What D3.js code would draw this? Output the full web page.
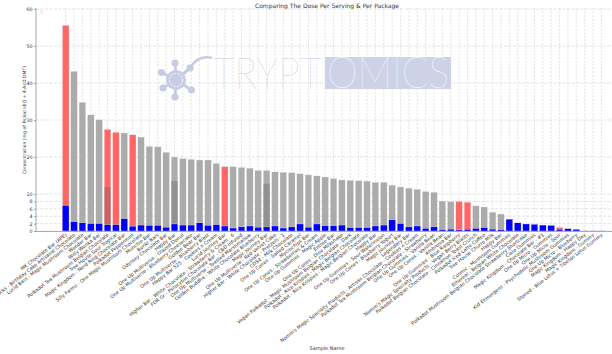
<!DOCTYPE html>
<html><head><meta charset="utf-8">
<script src="https://cdn.jsdelivr.net/npm/d3@7"></script>
<style>body{margin:0;background:#fff}svg{display:block;font-family:"DejaVu Sans",sans-serif}</style>
</head><body><svg id="c" width="612" height="354"></svg>
<script>
const labels = [
"MK Chocolate Bar (APE)",
"Magic Munchie Snacks - Birthday Cake Artisanal Chocolate",
"Lucid Bars - Magic Mushroom Chocolate",
"Wonder Bar",
"Willy Wonka Bar",
"Polkadot Tea Mushroom Belgian Chocolate",
"Tree House Sour Tropical",
"Magic Kingdom - Nerd Ring Chocolate Bar",
"Polkadot Peppermint",
"Silly Farms - One Magic Mushroom Chocolate",
"Munchie Bar",
"Bonkr Bars",
"Odyssey Chocolate Bar",
"Happy Bar",
"One Up Multiverse - Glazed Donut",
"One Up Multiverse - Blueberry Cheesecake",
"Golden Bear Bar",
"One Up Multiverse - Blueberry Blast",
"Happy Bar 525 - Cookies n Cream",
"Lucid Journey Bar",
"Higher Bar - White Chocolate - Strawberry & Cream - 6",
"FDR Gr - Psilocybin Chocolate Bar - CBD Infused",
"One Up Multiverse - Toasted Marshmallow",
"Golden Buddha - White Chocolate Blueberry",
"Magic Journey Bar",
"One Up Multiverse - Red Velvet Cake",
"Higher Bar - White Chocolate - Pretzels - 1",
"CDS4 - Milk Chocolate",
"One Up Cones - Salted Caramel",
"Mycrochips Bar",
"One Up Cones - Strawberries & Cream",
"One Up Gummies - Magic Apple",
"Entree Bar",
"One Up Cones - Dino Milkshake",
"Vegan Polkadot - Magic Mushroom Belgian Chocolate - Dark",
"Polkadot - Rice Krispies - Magic Belgian Chocolate",
"Polkadot - Rice Krispies - Magic Belgian Chocolate ",
"Happy Bar ",
"One Up Gummies - Sour Watermelon",
"One Up Cones - Blueberry Yogurt",
"Magic Journey Bar ",
"Legendary Bar",
"Nomm's Magic Specialty Products - Artisan Chocolate - Cookies n Cream",
"Polkadot Tea Mushroom Belgian Chocolate - Strawberry",
"One Up Gummies - Vanilla Bean",
"One Up Cones - Vanilla Bean",
"Ambrosia Bar",
"One Up Gummies - Blue Raspberry",
"Nomm's Magic Specialty Products - Vegan Berry Blasts",
"Polkadot Belgian Chocolate - Cinnamon Toast Crunch",
"Polkadot Iced Latte Coffee",
"Tree House Churro Milk",
"Happy Bar  ",
"Cosmic - Mushroom Gummies",
"Ethereal - Belgian White Chocolate",
"Polkadot Mushroom Belgian Chocolate Strawberry Shortcake",
"Cielo Gummies",
"Magic Kingdom - Chocolate Bar - #1",
"One Up Micro - Gummies",
"One Up Micro - Sour",
"Kid Enmergens - Psychedelic Mushroom Gummies",
"One Up Micro - Blueberry",
"Magic Kingdom - Happy Day",
"Magic Kingdom - Gummy",
"Stoned - Blue Lotus + Tibetan Lotus Gummy"
];
const perPackage = [55.6,43.2,34.8,31.4,30.1,27.5,26.7,26.5,26.0,25.4,22.9,22.8,21.3,20.0,19.6,19.4,19.2,19.2,18.3,17.4,17.4,17.2,17.0,16.4,16.4,16.0,15.9,15.8,15.5,15.2,14.9,14.6,14.2,13.8,13.7,13.6,13.5,13.2,13.2,12.4,11.9,11.6,11.3,10.7,10.5,8.1,8.0,8.0,7.8,6.8,6.5,5.1,4.6,3.2,2.2,1.9,1.8,1.6,1.5,1.0,0.7,0.45,0.15,0.15,0.15];
const perServing = [6.9,2.5,2.2,2.0,2.0,1.7,1.7,3.3,1.3,1.6,1.5,1.5,1.0,1.9,1.6,1.6,2.2,1.5,1.7,1.35,0.8,1.1,1.35,1.0,1.1,1.35,0.8,1.1,1.9,1.0,1.9,1.4,1.4,1.6,0.9,0.9,0.9,1.35,1.6,3.0,2.0,1.1,1.35,0.7,1.1,0.35,0.5,0.3,0.45,0.7,0.9,0.5,0.35,3.2,2.2,1.9,1.8,1.6,1.5,0.45,0.6,0.45,0.05,0.05,0.05];
const claimedSample = [6, 14, 25];          // 1-based sample numbers with a darker overlay
const claimedValue  = [11.8, 13.5, 12.8];
const flaggedSample = [1, 6, 7, 9, 20, 48, 49, 60]; // 1-based samples drawn in red
const yTicks = [0,2,4,6,8,10,20,30,40,50,60];

const svg = d3.select('#c');
const n = labels.length;
const x = d3.scaleBand().domain(d3.range(n)).range([61.5, 605.6]).paddingInner(0.2).paddingOuter(0.1);
const y = d3.scaleLinear().domain([0, 60]).range([231, 9]);
const left = 36, right = 612;

// grid
svg.append('g').selectAll('line').data(yTicks).join('line')
  .attr('x1', left).attr('x2', right).attr('y1', d => y(d)).attr('y2', d => y(d))
  .attr('stroke', '#dcdcdc').attr('stroke-width', 0.8).attr('stroke-dasharray', '3,1.5');
svg.append('g').selectAll('line').data(d3.range(n)).join('line')
  .attr('x1', d => x(d) + x.bandwidth()/2).attr('x2', d => x(d) + x.bandwidth()/2)
  .attr('y1', 8).attr('y2', 231)
  .attr('stroke', '#dcdcdc').attr('stroke-width', 0.8).attr('stroke-dasharray', '2,1.5');

// watermark
const wm = svg.append('g').attr('opacity', 1);
const wmc = '#c6cce3';
const cx = 176, cy = 80;
const nodes = [[175,63],[161.5,72.5],[163,88],[175,97],[191.5,90],[190,68]];
nodes.forEach(p => {
  wm.append('line').attr('x1', cx).attr('y1', cy).attr('x2', p[0]).attr('y2', p[1]).attr('stroke', wmc).attr('stroke-width', 3);
  wm.append('circle').attr('cx', p[0]).attr('cy', p[1]).attr('r', 3.6).attr('fill', wmc);
});
wm.append('circle').attr('cx', cx).attr('cy', cy).attr('r', 10).attr('fill', wmc);
wm.append('circle').attr('cx', cx).attr('cy', cy).attr('r', 6.5).attr('fill', 'none').attr('stroke', '#fff').attr('stroke-width', 1).attr('stroke-dasharray', '2,1.5');
wm.append('path').attr('d', 'M190,68 C196,58 204,56 212,58').attr('fill', 'none').attr('stroke', wmc).attr('stroke-width', 2.5);
wm.append('text').attr('x', 213).attr('y', 89).attr('font-family', 'Lato, "Open Sans", sans-serif').attr('font-weight', 200)
  .attr('font-size', 44).attr('fill', wmc).attr('textLength', 108).attr('lengthAdjust', 'spacingAndGlyphs').text('TRYPT');
wm.append('rect').attr('x', 325).attr('y', 57).attr('width', 126).attr('height', 32).attr('fill', '#cdd2e7');
wm.append('text').attr('x', 327).attr('y', 88).attr('font-family', 'Lato, "Open Sans", sans-serif').attr('font-weight', 200)
  .attr('font-size', 44).attr('fill', '#fff').attr('textLength', 122).attr('lengthAdjust', 'spacingAndGlyphs').text('OMICS');

// bars
const g = svg.append('g');
g.selectAll('rect.pkg').data(perPackage).join('rect').attr('class', 'pkg')
  .attr('x', (d, i) => x(i)).attr('width', x.bandwidth())
  .attr('y', d => y(d)).attr('height', d => y(0) - y(d))
  .attr('fill', (d, i) => flaggedSample.includes(i + 1) ? '#ff6666' : '#ababab')
  .attr('stroke', '#fff').attr('stroke-width', 0.3);
g.selectAll('rect.claim').data(claimedSample).join('rect').attr('class', 'claim')
  .attr('x', d => x(d - 1)).attr('width', x.bandwidth())
  .attr('y', (d, i) => y(claimedValue[i])).attr('height', (d, i) => y(0) - y(claimedValue[i]))
  .attr('fill', '#555').attr('fill-opacity', 0.3);
g.selectAll('rect.srv').data(perServing).join('rect').attr('class', 'srv')
  .attr('x', (d, i) => x(i)).attr('width', x.bandwidth())
  .attr('y', d => y(d)).attr('height', d => y(0) - y(d))
  .attr('fill', '#0000ff').attr('stroke', '#fff').attr('stroke-width', 0.3);

// axes
svg.append('line').attr('x1', left).attr('x2', left).attr('y1', 8).attr('y2', 231.5).attr('stroke', '#c8c8c8').attr('stroke-width', 1.6);
svg.append('line').attr('x1', left).attr('x2', right).attr('y1', 231.5).attr('y2', 231.5).attr('stroke', '#999').attr('stroke-width', 0.8);
const ya = svg.append('g').attr('transform', `translate(${left},0)`)
  .call(d3.axisLeft(y).tickValues(yTicks).tickSize(2).tickPadding(1.5));
ya.select('.domain').remove();
ya.selectAll('text').attr('font-size', 4.8).attr('fill', '#333').attr('font-family', '"DejaVu Sans",sans-serif');
ya.selectAll('line').attr('stroke', '#555').attr('stroke-width', 0.5);
svg.append('text').attr('x', 40).attr('y', 14).attr('font-size', 5).attr('fill', '#d8d8d8').text('0');

// x labels
svg.append('g').selectAll('text').data(labels).join('text')
  .attr('transform', (d, i) => `translate(${x(i) + x.bandwidth()/2 + 1.5},235.5) rotate(-38)`)
  .attr('text-anchor', 'end').attr('font-size', 4.8).attr('fill', '#333').text(d => d.trim());

// titles
svg.append('text').attr('x', 327).attr('y', 7.5).attr('text-anchor', 'middle').attr('font-size', 6).attr('fill', '#333')
  .text('Comparing The Dose Per Serving & Per Package');
svg.append('text').attr('transform', 'translate(26,120) rotate(-90)').attr('text-anchor', 'middle').attr('font-size', 4.6).attr('fill', '#333')
  .text('Concentration (mg of PsilocinEQ + 4-AcO DMT)');
svg.append('text').attr('x', 327).attr('y', 350).attr('text-anchor', 'middle').attr('font-size', 5).attr('fill', '#333').text('Sample Name');
</script></body></html>
